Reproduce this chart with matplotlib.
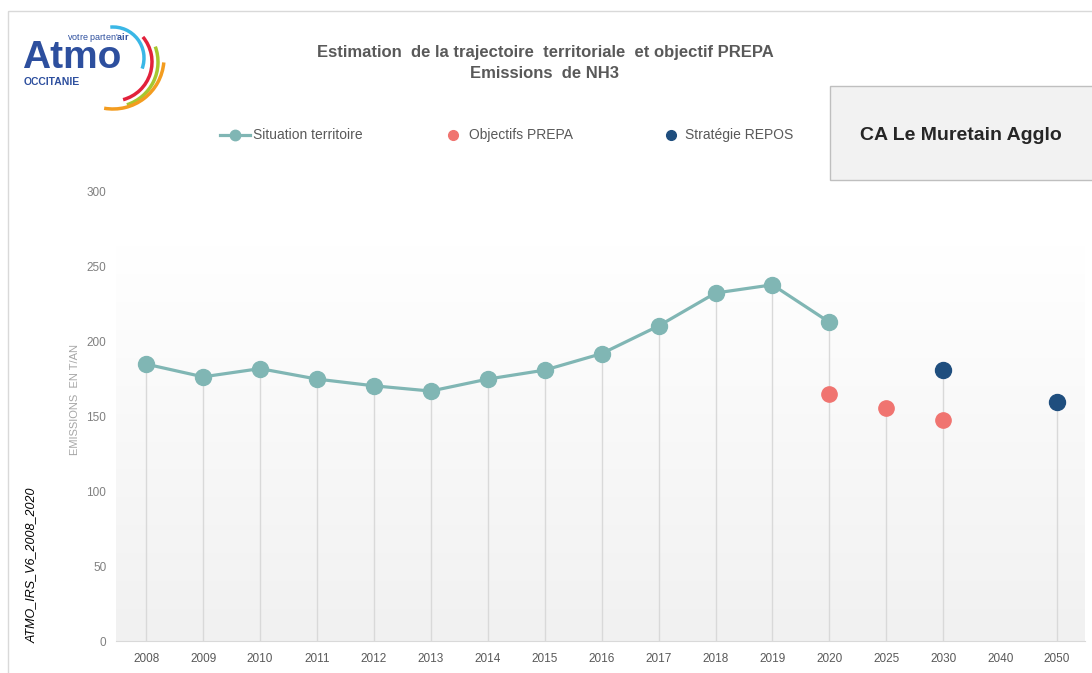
import matplotlib.pyplot as plt
import numpy as np
from matplotlib.patches import Arc, Rectangle, FancyArrow
from matplotlib.lines import Line2D

plt.rcParams['font.family'] = ['Liberation Sans', 'DejaVu Sans']
plt.rcParams['mathtext.fontset'] = 'custom'
plt.rcParams['mathtext.rm'] = 'Liberation Sans'
plt.rcParams['mathtext.bf'] = 'Liberation Sans:bold'

# Data
years = ['2008', '2009', '2010', '2011', '2012', '2013', '2014', '2015', '2016',
         '2017', '2018', '2019', '2020', '2025', '2030', '2040', '2050']
territoire = [185, 176.5, 182, 175, 170.5, 167, 175, 181, 192, 210.5, 232.5, 238, 213,
              None, None, None, None]
prepa = [None] * 12 + [165, 156, 147.5, None, None]
repos = [None] * 14 + [181, None, 159.5]

teal = '#80b6b4'
red = '#f07470'
navy = '#1f4e7e'

fig = plt.figure(figsize=(10.92, 6.73), dpi=100)
fig.patch.set_facecolor('white')

# overlay in pixel coordinates for decorations
ov = fig.add_axes([0, 0, 1, 1], zorder=0)
ov.set_xlim(0, 1092)
ov.set_ylim(673, 0)
ov.axis('off')

ax = fig.add_axes([116 / 1092, 32 / 673, 969 / 1092, 449 / 673], zorder=1)
ax.patch.set_alpha(0)

x = np.arange(len(years))

def arr(v):
    return np.array([np.nan if a is None else a for a in v], dtype=float)

t = arr(territoire)
p = arr(prepa)
r = arr(repos)

# gradient background
grad = np.linspace(0, 1, 100).reshape(-1, 1)
ax.imshow(grad, extent=[-0.53, 16.49, 0, 266], aspect='auto', origin='lower',
          cmap=plt.matplotlib.colors.LinearSegmentedColormap.from_list('g', ['#f1f1f1', '#ffffff']),
          zorder=0)

# drop lines
top = np.nanmax(np.vstack([t, p, r]), axis=0)
for xi, yi in zip(x, top):
    if not np.isnan(yi):
        ax.plot([xi, xi], [0, yi], color='#d9d9d9', lw=1, zorder=1)

ax.plot(x, t, color=teal, lw=2.3, marker='o', ms=11.5, zorder=3)
ax.plot(x, p, ls='none', color=red, marker='o', ms=11, zorder=3)
ax.plot(x, r, ls='none', color=navy, marker='o', ms=11.5, zorder=3)

ax.set_xlim(-0.53, 16.49)
ax.set_ylim(0, 300)
ax.set_yticks([0, 50, 100, 150, 200, 250, 300])
ax.set_xticks(x)
ax.set_xticklabels(years)
ax.tick_params(axis='both', length=0, labelsize=8.5)
ax.tick_params(axis='x', colors='#595959', pad=9)
ax.tick_params(axis='y', colors='#808080', pad=7)
for s in ['top', 'right', 'left']:
    ax.spines[s].set_visible(False)
ax.spines['bottom'].set_color('#d9d9d9')

ax.text(-0.042, 0.537, 'EMISSIONS  EN T/AN', transform=ax.transAxes, rotation=90,
        ha='center', va='center', fontsize=8, color='#a6a6a6')

# outer border
ov.add_patch(Rectangle((8, 11), 1200, 800, fill=False, ec='#d9d9d9', lw=1))

# title
ov.text(545, 52, 'Estimation  de la trajectoire  territoriale  et objectif PREPA',
        ha='center', va='center', fontsize=12, fontweight='bold', color='#595959')
ov.text(545, 74, 'Emissions  de NH3', ha='center', va='center', fontsize=12,
        fontweight='bold', color='#595959')

# territory box
ov.add_patch(Rectangle((830, 86), 300, 94, fc='#f2f2f2', ec='#bfbfbf', lw=1))
ov.text(961, 135, 'CA Le Muretain Agglo', ha='center', va='center', fontsize=14,
        fontweight='bold', color='#262626')

# legend
ov.add_line(Line2D([220, 250], [135, 135], color=teal, lw=2.3, zorder=2))
ov.plot([235], [135], 'o', color=teal, ms=7.5)
ov.text(253, 135, 'Situation territoire', va='center', fontsize=10, color='#595959')
ov.plot([453], [135], 'o', color=red, ms=7)
ov.text(469, 135, 'Objectifs PREPA', va='center', fontsize=10, color='#595959')
ov.plot([671], [135], 'o', color=navy, ms=7)
ov.text(685, 135, 'Stratégie REPOS', va='center', fontsize=10, color='#595959')

# arrow and percentage
ov.add_patch(FancyArrow(851, 373, 0, -30, width=7, head_width=26, head_length=14,
                        length_includes_head=True, color='#5f5a55', lw=0))
ov.text(879, 364, '29%', va='center', fontsize=12, color='#262626')

# left side code
ov.text(32, 565, 'ATMO_IRS_V6_2008_2020', rotation=90, ha='center', va='center',
        fontsize=9, style='italic', color='#000000')

# logo
ov.text(22, 68, 'Atmo', fontsize=28, fontweight='bold', color='#2d4f9e', va='baseline')
ov.text(24, 85, 'OCCITANIE', fontsize=7.5, fontweight='bold', color='#2d4f9e', va='baseline')
ov.text(67, 40, r"votre parten'$\mathbf{air}$", fontsize=6.5, color='#2d4f9e', va='baseline')
ov.add_patch(Arc((113, 58), 62, 62, theta1=-95, theta2=20, color='#3ab7e6', lw=2.5))
ov.add_patch(Arc((113, 62), 78, 78, theta1=-40, theta2=75, color='#e2213b', lw=2.5))
ov.add_patch(Arc((113, 62), 90, 90, theta1=-20, theta2=72, color='#a7c72f', lw=2.5))
ov.add_patch(Arc((113, 58), 102, 102, theta1=5, theta2=100, color='#f39c1f', lw=2.5))

fig.savefig('out.png', dpi=100)
